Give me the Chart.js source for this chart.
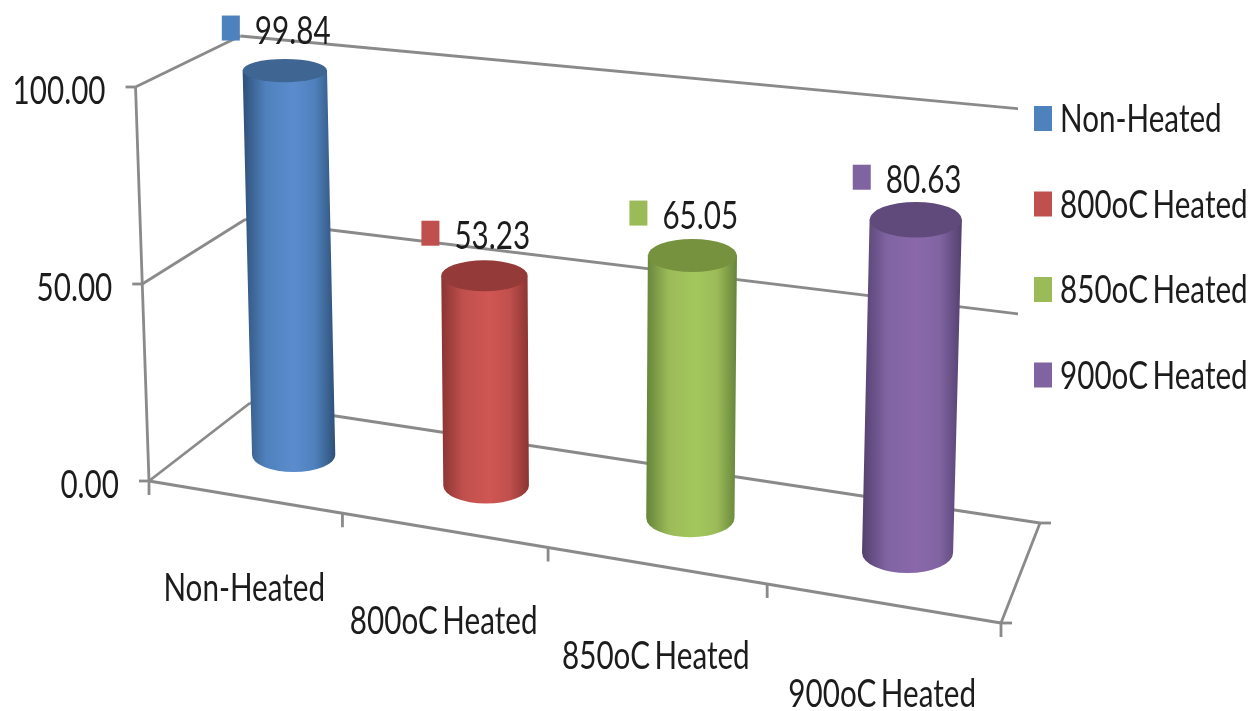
<!DOCTYPE html>
<html>
<head>
<meta charset="utf-8">
<style>
  html, body { margin: 0; background: #fff; }
  #box { width: 1251px; height: 711px; }
</style>
<script src="https://cdn.jsdelivr.net/npm/chart.js@4"></script>
</head>
<body>
<div id="box"><canvas id="myChart" width="1251" height="711"></canvas></div>
<script>
const categories = ["Non-Heated", "800oC Heated", "850oC Heated", "900oC Heated"];
const values = [99.84, 53.23, 65.05, 80.63];
const yTicks = [0, 50, 100];
const keyColors = ["#4f81bd", "#c0504d", "#9bbb59", "#8064a2"];
const lightColors = ["#5b8cce", "#d05652", "#a3c75c", "#8a68aa"];
const darkColors = ["#2f5078", "#8a3432", "#66843a", "#54406f"];
const topColors = ["#3f6592", "#943a38", "#76923e", "#604a7b"];

// the 3d box on the page: floor corners and wall heights at those corners
const floorQuad = [[149, 481], [1001, 623], [1040, 523], [250, 403]];
const wallHeights = [394, 424, 411, 367];
const leanCenterX = 590;
const leanPerPx = 7.75e-5;
const wallClipX = 1018;
const depthRadius = 0.21;
const meanRadiusX = 44;
const gridColor = "#8a8a8a";
const fontName = "Lato";
const textStretch = 0.76;

function quadMap(q) {
  const [x0, y0] = q[0], [x1, y1] = q[1], [x2, y2] = q[2], [x3, y3] = q[3];
  const sx = x0 - x1 + x2 - x3, sy = y0 - y1 + y2 - y3;
  const dx1 = x1 - x2, dx2 = x3 - x2, dy1 = y1 - y2, dy2 = y3 - y2;
  const den = dx1 * dy2 - dx2 * dy1;
  const g = (sx * dy2 - dx2 * sy) / den, h = (dx1 * sy - sx * dy1) / den;
  const a = x1 - x0 + g * x1, b = x3 - x0 + h * x3;
  const d = y1 - y0 + g * y1, e = y3 - y0 + h * y3;
  return (u, w) => {
    const t = g * u + h * w + 1;
    return [(a * u + b * w + x0) / t, (d * u + e * w + y0) / t];
  };
}
const floorAt = quadMap(floorQuad);

// u along the categories, v up the value axis, w from front to back
function project(u, v, w) {
  const p = floorAt(u, w);
  const front = wallHeights[0] + (wallHeights[1] - wallHeights[0]) * u;
  const back = wallHeights[3] + (wallHeights[2] - wallHeights[3]) * u;
  const h = front + (back - front) * w;
  const lean = (p[0] - leanCenterX) * leanPerPx * h;
  return [p[0] + lean * v, p[1] - h * v];
}

function toU(chart, px) {
  const a = chart.chartArea;
  return (px - a.left) / (a.right - a.left);
}
function toV(chart, val) {
  const s = chart.scales.y, a = chart.chartArea;
  return (a.bottom - s.getPixelForValue(val)) / (a.bottom - a.top);
}

function stretchedText(ctx, text, x, y, align, size, stretch) {
  ctx.save();
  ctx.font = size + "px " + fontName;
  ctx.fillStyle = "#1c1c1c";
  ctx.textBaseline = "alphabetic";
  ctx.textAlign = align;
  ctx.wordSpacing = "-4px";
  ctx.filter = "blur(0.4px)";
  ctx.translate(x, y);
  ctx.scale(stretch || textStretch, 1);
  ctx.fillText(text, 0, 0);
  ctx.restore();
}

function seg(ctx, a, b) {
  ctx.beginPath();
  ctx.moveTo(a[0], a[1]);
  ctx.lineTo(b[0], b[1]);
  ctx.stroke();
}

const boxPlugin = {
  id: "box3d",
  beforeDatasetsDraw(chart) {
    const ctx = chart.ctx, xs = chart.scales.x;
    ctx.save();
    ctx.strokeStyle = gridColor;
    ctx.lineWidth = 2.8;
    ctx.lineCap = "butt";
    ctx.filter = "blur(0.4px)";

    // back wall, cut off by the legend on the right
    ctx.save();
    ctx.beginPath();
    ctx.rect(0, 0, wallClipX, 711);
    ctx.clip();
    yTicks.forEach(t => {
      if (t > 0) seg(ctx, project(0, toV(chart, t), 1), project(1, toV(chart, t), 1));
    });
    ctx.restore();
    seg(ctx, project(0, 0, 1), project(1, 0, 1));

    // left side wall and axis
    seg(ctx, project(0, 0, 0), project(0, 1, 0));
    yTicks.forEach(t => {
      const v = toV(chart, t), p = project(0, v, 0);
      seg(ctx, p, project(0, v, 1));
      seg(ctx, [p[0] - 10, p[1]], p);
    });

    // floor
    seg(ctx, project(0, 0, 0), project(1, 0, 0));
    seg(ctx, project(1, 0, 0), project(1, 0, 1));
    categories.forEach((c, i) => {
      const p = project(toU(chart, xs.getPixelForValue(i + 0.5)), 0, 0);
      seg(ctx, p, [p[0], p[1] + 14]);
    });
    const l0 = project(0, 0, 0), r0 = project(1, 0, 0), r1 = project(1, 0, 1);
    seg(ctx, l0, [l0[0], l0[1] + 14]);
    seg(ctx, [r0[0], r0[1]], [r0[0] + 11, r0[1]]);
    seg(ctx, [r1[0], r1[1]], [r1[0] + 11, r1[1]]);
    ctx.restore();
  },
  afterDatasetsDraw(chart) {
    const ctx = chart.ctx, meta = chart.getDatasetMeta(0), xs = chart.scales.x;
    const a = chart.chartArea;

    meta.data.forEach((bar, i) => {
      const u = toU(chart, bar.x);
      const ru = bar.width / 2 / (a.right - a.left);
      const vTop = (a.bottom - bar.y) / (a.bottom - a.top);
      // upright ellipse for the end of the cylinder at height v
      const ring = v => {
        const c = project(u, v, 0.5);
        const rx = (project(u + ru, v, 0.5)[0] - project(u - ru, v, 0.5)[0]) / 2;
        const ry = depthRadius * (project(u, v, 0)[1] - project(u, v, 1)[1]);
        // widths change less across the chart than the floor does
        return { x: c[0], y: c[1], rx: (rx + meanRadiusX) / 2, ry };
      };
      const lo = ring(0), hi = ring(vTop);

      const xMin = Math.min(lo.x - lo.rx, hi.x - hi.rx), xMax = Math.max(lo.x + lo.rx, hi.x + hi.rx);
      const g = ctx.createLinearGradient(xMin, 0, xMax, 0);
      g.addColorStop(0, darkColors[i]);
      g.addColorStop(0.25, keyColors[i]);
      g.addColorStop(0.55, lightColors[i]);
      g.addColorStop(0.78, keyColors[i]);
      g.addColorStop(1, darkColors[i]);

      ctx.save();
      ctx.filter = "blur(0.5px)";
      ctx.fillStyle = g;
      ctx.beginPath();
      ctx.moveTo(hi.x - hi.rx, hi.y);
      ctx.lineTo(lo.x - lo.rx, lo.y);
      ctx.ellipse(lo.x, lo.y, lo.rx, lo.ry, 0, Math.PI, 0, true);
      ctx.lineTo(hi.x + hi.rx, hi.y);
      ctx.closePath();
      ctx.fill();

      ctx.fillStyle = topColors[i];
      ctx.beginPath();
      ctx.ellipse(hi.x, hi.y, hi.rx, hi.ry, 0, 0, 2 * Math.PI);
      ctx.fill();
      ctx.restore();

      // value label with its legend key, sits above the top of the cylinder
      ctx.fillStyle = keyColors[i];
      ctx.fillRect(hi.x - 63, hi.y - 55, 18, 25);
      stretchedText(ctx, values[i].toFixed(2), hi.x - 30, hi.y - 27, "left", 39);

      // category label under the front edge
      const f = project(u, 0, 0);
      stretchedText(ctx, xs.getLabelForValue(i), f[0], f[1] + 104, "center", 39);
    });

    // value axis labels
    chart.scales.y.ticks.forEach(t => {
      const p = project(0, toV(chart, t.value), 0);
      stretchedText(ctx, t.value.toFixed(2), p[0] - 30, p[1] + 17, "right", 39);
    });

    // legend
    categories.forEach((c, i) => {
      const y = 132 + i * 85.5;
      ctx.fillStyle = keyColors[i];
      ctx.fillRect(1034, y - 26, 18, 25);
      stretchedText(ctx, c, 1060, y, "left", 39);
    });
  }
};

const chart = new Chart(document.getElementById("myChart").getContext("2d"), {
  type: "bar",
  data: {
    labels: categories,
    datasets: [{
      label: "Series",
      data: values,
      backgroundColor: "rgba(0,0,0,0)",
      barPercentage: 0.42,
      categoryPercentage: 1
    }]
  },
  options: {
    responsive: false,
    animation: false,
    layout: { padding: 0 },
    plugins: { legend: { display: false }, tooltip: { enabled: false }, title: { display: false } },
    scales: {
      x: { ticks: { display: false }, grid: { display: false }, border: { display: false } },
      y: {
        min: 0,
        max: 100,
        afterBuildTicks: axis => { axis.ticks = yTicks.map(v => ({ value: v })); },
        ticks: { display: false },
        grid: { display: false },
        border: { display: false }
      }
    }
  },
  plugins: [boxPlugin]
});
</script>
</body>
</html>
